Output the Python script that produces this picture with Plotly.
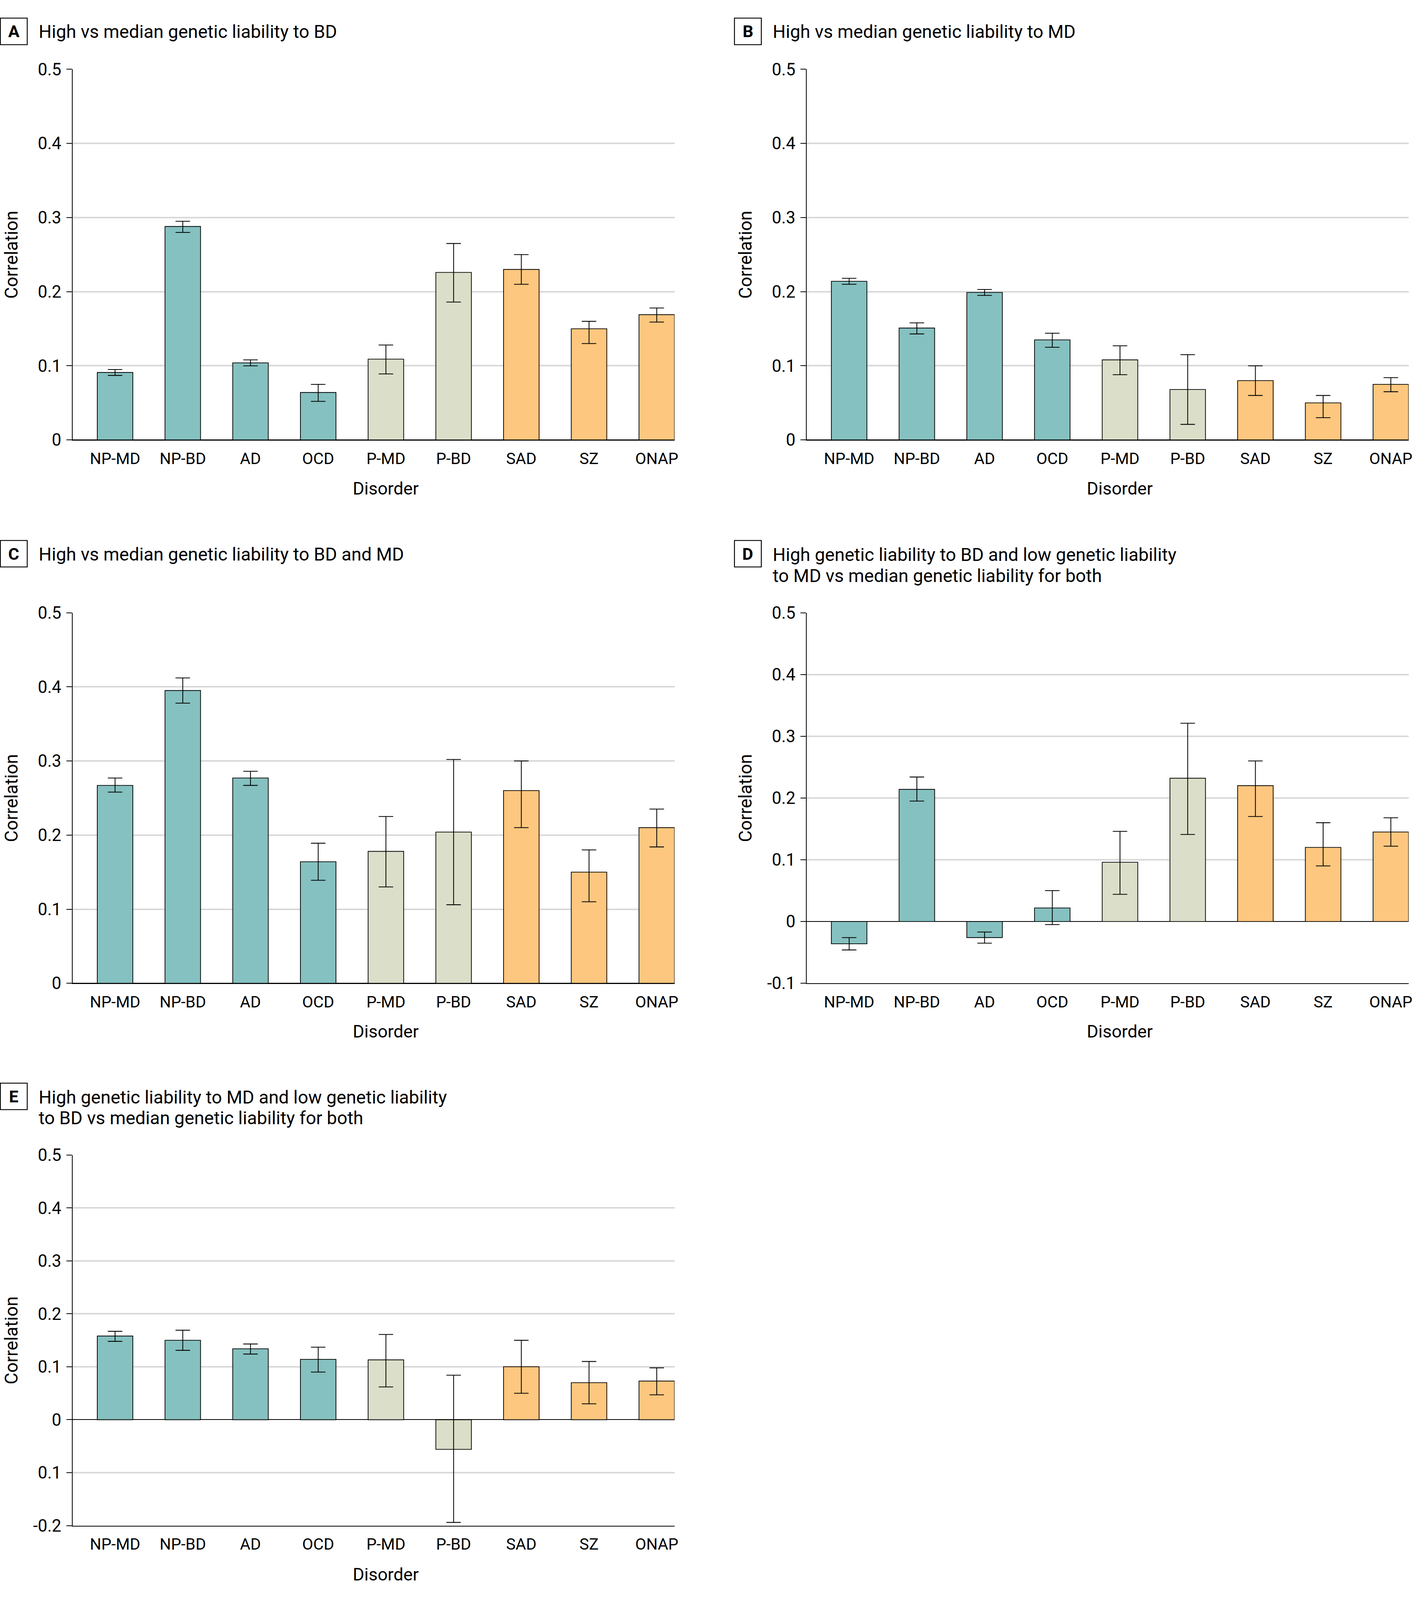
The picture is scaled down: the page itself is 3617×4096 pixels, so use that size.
import plotly.graph_objects as go

# ---------------- data ----------------
categories = ["NP-MD", "NP-BD", "AD", "OCD", "P-MD", "P-BD", "SAD", "SZ", "ONAP"]
groups = ["nonpsychotic", "nonpsychotic", "nonpsychotic", "nonpsychotic",
          "psychotic_mood", "psychotic_mood", "psychotic", "psychotic", "psychotic"]

a_val = [0.091, 0.288, 0.104, 0.064, 0.109, 0.226, 0.230, 0.150, 0.169]
a_hi = [0.095, 0.295, 0.108, 0.075, 0.128, 0.265, 0.250, 0.160, 0.178]
a_lo = [0.087, 0.280, 0.100, 0.052, 0.089, 0.186, 0.210, 0.130, 0.159]

b_val = [0.214, 0.151, 0.199, 0.135, 0.108, 0.068, 0.080, 0.050, 0.075]
b_hi = [0.218, 0.158, 0.203, 0.144, 0.127, 0.115, 0.100, 0.060, 0.084]
b_lo = [0.210, 0.143, 0.195, 0.125, 0.088, 0.021, 0.060, 0.030, 0.065]

c_val = [0.267, 0.395, 0.277, 0.164, 0.178, 0.204, 0.260, 0.150, 0.210]
c_hi = [0.277, 0.412, 0.286, 0.189, 0.225, 0.302, 0.300, 0.180, 0.235]
c_lo = [0.258, 0.378, 0.267, 0.139, 0.130, 0.106, 0.210, 0.110, 0.184]

d_val = [-0.036, 0.214, -0.026, 0.022, 0.096, 0.232, 0.220, 0.120, 0.145]
d_hi = [-0.026, 0.234, -0.017, 0.050, 0.146, 0.321, 0.260, 0.160, 0.168]
d_lo = [-0.046, 0.195, -0.035, -0.005, 0.044, 0.141, 0.170, 0.090, 0.122]

e_val = [0.158, 0.150, 0.134, 0.114, 0.113, -0.056, 0.100, 0.070, 0.073]
e_hi = [0.167, 0.169, 0.143, 0.137, 0.161, 0.084, 0.150, 0.110, 0.098]
e_lo = [0.148, 0.131, 0.124, 0.090, 0.062, -0.194, 0.050, 0.030, 0.047]

ticks_pos = [0, 0.1, 0.2, 0.3, 0.4, 0.5]
ticks_pos_d = [-0.1, 0, 0.1, 0.2, 0.3, 0.4, 0.5]
ticks_pos_e = [-0.2, -0.1, 0, 0.1, 0.2, 0.3, 0.4, 0.5]
labels_pos = ["0", "0.1", "0.2", "0.3", "0.4", "0.5"]
labels_d = ["-0.1", "0", "0.1", "0.2", "0.3", "0.4", "0.5"]
labels_e = ["-0.2", "0.1", "0", "0.1", "0.2", "0.3", "0.4", "0.5"]

# ---------------- styles / geometry ----------------
REF_W, REF_H = 3892, 4408
S = 0.929
W, H = 3617, 4096
FONT = "Roboto"
colors = {"nonpsychotic": "#85C1C0", "psychotic_mood": "#DBDFC9", "psychotic": "#FEC77F"}
bar_colors = [colors[g] for g in groups]


def px(x):
    return x / REF_W


def py(y):
    return 1 - y / REF_H


panels = [
    dict(letter="A", title=["High vs median genetic liability to BD"], title_y=[87],
         box=(0, 50), xdom=(200, 1858), ydom=(191, 1212), xoff=0,
         val=a_val, hi=a_hi, lo=a_lo, yr=[0, 0.5], tv=ticks_pos, tt=labels_pos,
         dis_y=1346),
    dict(letter="B", title=["High vs median genetic liability to MD"], title_y=[87],
         box=(2022, 50), xdom=(2222, 3880), ydom=(191, 1212), xoff=2022,
         val=b_val, hi=b_hi, lo=b_lo, yr=[0, 0.5], tv=ticks_pos, tt=labels_pos,
         dis_y=1346),
    dict(letter="C", title=["High vs median genetic liability to BD and MD"], title_y=[1527],
         box=(0, 1489), xdom=(200, 1858), ydom=(1688, 2709), xoff=0,
         val=c_val, hi=c_hi, lo=c_lo, yr=[0, 0.5], tv=ticks_pos, tt=labels_pos,
         dis_y=2842),
    dict(letter="D", title=["High genetic liability to BD and low genetic liability",
                            "to MD vs median genetic liability for both"], title_y=[1528, 1586],
         box=(2022, 1489), xdom=(2222, 3880), ydom=(1688, 2709), xoff=2022,
         val=d_val, hi=d_hi, lo=d_lo, yr=[-0.1, 0.5], tv=ticks_pos_d, tt=labels_d,
         dis_y=2842),
    dict(letter="E", title=["High genetic liability to MD and low genetic liability",
                            "to BD vs median genetic liability for both"], title_y=[3023, 3080],
         box=(0, 2984), xdom=(200, 1858), ydom=(3182, 4203), xoff=0,
         val=e_val, hi=e_hi, lo=e_lo, yr=[-0.2, 0.5], tv=ticks_pos_e, tt=labels_e,
         dis_y=4338),
]

fig = go.Figure()
annotations = []
shapes = []

for i, p in enumerate(panels):
    n = "" if i == 0 else str(i + 1)
    xa, ya = "x" + n, "y" + n
    plus = [h - v for h, v in zip(p["hi"], p["val"])]
    minus = [v - l for v, l in zip(p["val"], p["lo"])]
    fig.add_trace(go.Bar(
        x=categories, y=p["val"], xaxis=xa, yaxis=ya,
        marker=dict(color=bar_colors, line=dict(color="black", width=2 * S)),
        error_y=dict(type="data", symmetric=False, array=plus, arrayminus=minus,
                     color="black", thickness=2.2 * S, width=20 * S),
        showlegend=False, hoverinfo="skip",
    ))
    fig.layout["xaxis" + n] = dict(
        domain=[px(p["xdom"][0]), px(p["xdom"][1])], anchor=ya, automargin=False,
        type="category", categoryorder="array", categoryarray=categories,
        range=[-0.627, 8.263], showgrid=False, zeroline=False,
        showline=True, linecolor="black", linewidth=2.5 * S,
        ticks="", tickfont=dict(family=FONT, size=41, color="black"),
        ticklabelstandoff=10,
    )
    fig.layout["yaxis" + n] = dict(
        domain=[py(p["ydom"][1]), py(p["ydom"][0])], anchor=xa, automargin=False,
        range=p["yr"], tickvals=p["tv"], ticktext=p["tt"],
        showgrid=True, gridcolor="#D9D9D9", gridwidth=4 * S,
        zeroline=True, zerolinecolor="black", zerolinewidth=2.5 * S,
        showline=True, linecolor="black", linewidth=2.5 * S,
        ticks="outside", ticklen=15 * S, tickwidth=2.3 * S, tickcolor="black",
        tickfont=dict(family=FONT, size=43.5, color="black"),
        ticklabelstandoff=4,
    )
    # panel letter box
    bx, by = p["box"]
    shapes.append(dict(type="rect", xref="paper", yref="paper",
                       x0=px(bx + 1), x1=px(bx + 75), y0=py(by + 73), y1=py(by),
                       line=dict(color="black", width=2.5 * S), fillcolor="white"))
    annotations.append(dict(xref="paper", yref="paper", x=px(bx + 38), y=py(by + 36.5),
                            text="<b>%s</b>" % p["letter"], showarrow=False,
                            xanchor="center", yanchor="middle",
                            font=dict(family=FONT, size=43, color="black")))
    # title lines
    for line, ty in zip(p["title"], p["title_y"]):
        annotations.append(dict(xref="paper", yref="paper", x=px(104 + p["xoff"]), y=py(ty),
                                text=line, showarrow=False, xanchor="left", yanchor="middle",
                                font=dict(family=FONT, size=46.5, color="black")))
    # y axis title
    annotations.append(dict(xref="paper", yref="paper", x=px(31 + p["xoff"]),
                            y=py((p["ydom"][0] + p["ydom"][1]) / 2),
                            text="Correlation", textangle=-90, showarrow=False,
                            xanchor="center", yanchor="middle",
                            font=dict(family=FONT, size=46, color="black")))
    # x axis title, centred on the middle category
    annotations.append(dict(xref=xa, yref="paper", x=categories[4], y=py(p["dis_y"]),
                            text="Disorder", showarrow=False,
                            xanchor="center", yanchor="middle",
                            font=dict(family=FONT, size=45, color="black")))

fig.update_layout(
    width=W, height=H, margin=dict(l=0, r=0, t=0, b=0, pad=0, autoexpand=False),
    paper_bgcolor="white", plot_bgcolor="white",
    bargap=0.475, annotations=annotations, shapes=shapes,
    font=dict(family=FONT, color="black"),
)

fig.write_html("out.html", config={"displayModeBar": False},
               post_script="document.body.style.margin='0px';")
